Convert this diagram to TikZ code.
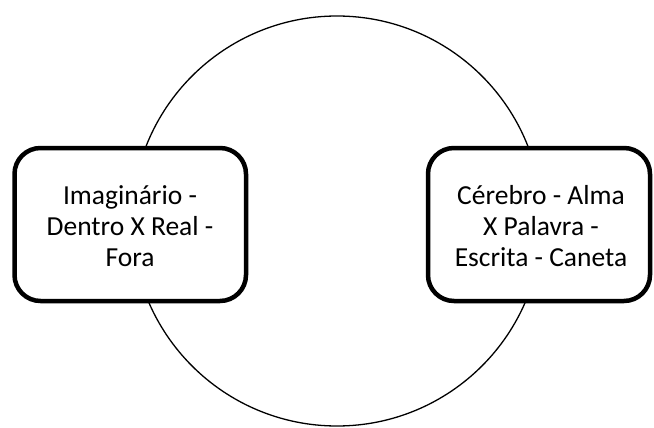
\documentclass[tikz,border=0pt]{standalone}
\usepackage{fontspec}
\setmainfont{Carlito}
\begin{document}
\begin{tikzpicture}[x=1pt,y=-1pt,
  box/.style={draw=black,line width=4.5pt,fill=white,rounded corners=26pt},
  lbl/.style={align=center,font=\fontsize{27.5}{31}\selectfont,inner sep=0pt}]
\useasboundingbox (0,0) rectangle (654,428);
\node[draw=black,line width=1.3pt,circle,minimum size=410pt,inner sep=0pt] (c) at (337,221) {};
\draw[box] (14.5,148) rectangle (246,301);
\draw[box] (428,148) rectangle (650,301);
\node[lbl] (l) at (130,226) {Imaginário -\\Dentro X Real -\\Fora};
\node[lbl] (r) at (541,226) {Cérebro - Alma\\X Palavra -\\Escrita - Caneta};
\end{tikzpicture}
\end{document}
